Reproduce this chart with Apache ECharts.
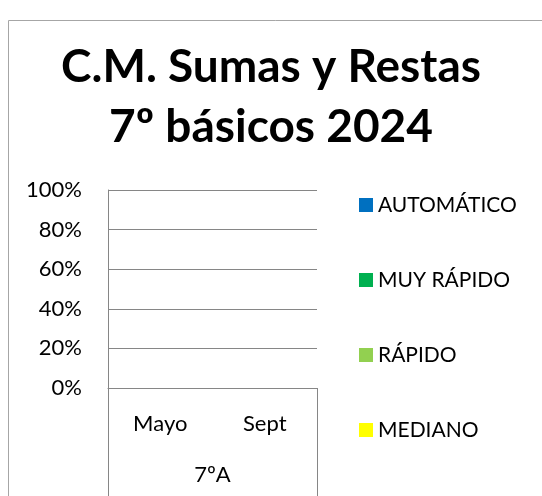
<!DOCTYPE html>
<html><head><meta charset="utf-8">
<script src="https://cdn.jsdelivr.net/npm/echarts@6/dist/echarts.min.js"></script>
<style>html,body{margin:0;padding:0;background:#fff}#c{width:542px;height:496px}</style>
</head><body><div id="c"></div>
<script>
const categories = ['Mayo', 'Sept'];
const groupLabels = ['7ºA'];
const seriesNames = ['AUTOMÁTICO', 'MUY RÁPIDO', 'RÁPIDO', 'MEDIANO'];
const seriesColors = ['#0070C0', '#00B050', '#92D050', '#FFFF00'];
const automatico = [null, null];
const muyRapido = [null, null];
const rapido = [null, null];
const mediano = [null, null];
const seriesValues = [automatico, muyRapido, rapido, mediano];
const yTicks = [0, 20, 40, 60, 80, 100];

const FONT = 'Lato';
const chart = echarts.init(document.getElementById('c'), null, {renderer: 'canvas'});
chart.setOption({
  animation: false,
  backgroundColor: '#fff',
  title: {
    text: 'C.M. Sumas y Restas\n7º básicos 2024',
    left: 266, top: 32, textAlign: 'center',
    textStyle: {fontFamily: FONT, fontWeight: 'bold', fontSize: 46, lineHeight: 60, color: '#000'}
  },
  graphic: [{type: 'rect', left: 6, top: 18, shape: {width: 700, height: 700}, style: {fill: 'none', stroke: '#a6a6a6', lineWidth: 1}}],
  legend: {
    orient: 'vertical', left: 359, top: 193, padding: 0,
    icon: 'rect', itemWidth: 14, itemHeight: 14, itemGap: 51,
    textStyle: {fontFamily: FONT, fontSize: 21, color: '#000', lineHeight: 24},
    data: seriesNames
  },
  grid: {left: 108, top: 190, width: 209, height: 198, containLabel: false},
  xAxis: [
    {type: 'category', data: categories, position: 'bottom',
     axisLine: {show: true, lineStyle: {color: '#868686'}},
     axisTick: {show: false},
     axisLabel: {fontFamily: FONT, fontSize: 22, color: '#000', margin: 25}},
    {type: 'category', data: groupLabels, position: 'bottom',
     axisLine: {show: false},
     axisTick: {show: true, length: 120, lineStyle: {color: '#868686'}},
     axisLabel: {fontFamily: FONT, fontSize: 22, color: '#000', margin: 76}}
  ],
  yAxis: {
    type: 'value', min: yTicks[0], max: yTicks[yTicks.length - 1], interval: 20,
    axisLine: {show: true, lineStyle: {color: '#868686'}},
    axisTick: {show: false},
    splitLine: {show: true, lineStyle: {color: '#868686'}},
    axisLabel: {fontFamily: FONT, fontSize: 22, color: '#000', margin: 26, formatter: '{value}%'}
  },
  series: seriesNames.map((n, i) => ({
    name: n, type: 'bar', stack: 'total', xAxisIndex: 0,
    itemStyle: {color: seriesColors[i]}, data: seriesValues[i]
  }))
});
</script></body></html>
